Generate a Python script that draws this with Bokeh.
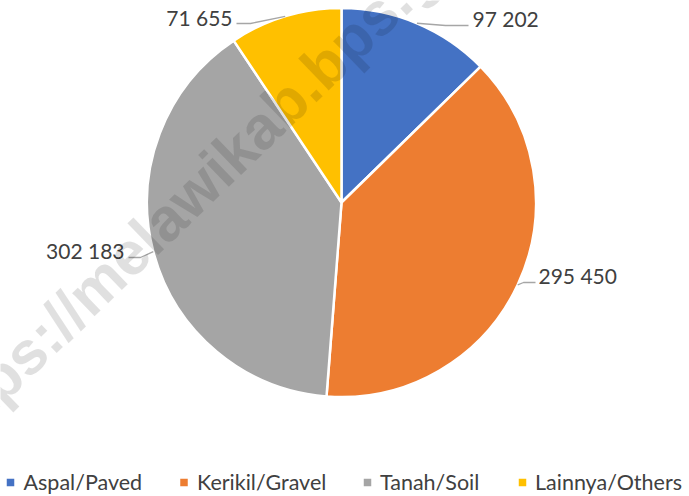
import numpy as np
from bokeh.plotting import figure
from bokeh.models import Range1d, ColumnDataSource
from bokeh.core.properties import value
from bokeh.embed import file_html
from bokeh.resources import INLINE

# ---- data ----
categories = ["Aspal/Paved", "Kerikil/Gravel", "Tanah/Soil", "Lainnya/Others"]
values = [97202, 295450, 302183, 71655]
value_labels = ["97 202", "295 450", "302 183", "71 655"]
colors = ["#4472C4", "#ED7D31", "#A5A5A5", "#FFC000"]
watermark = "https://melawikab.bps.go.id"

# ---- layout (screen pixel coords -> data coords, 1 unit = 1 px) ----
W, H = 689, 496
def X(px):
    return px
def Y(py):
    return H - py

CX, CY, R = 341, 202, 194.5
FONT = value("Lato")
TXT = "#404040"

p = figure(width=W, height=H, x_range=Range1d(0, W), y_range=Range1d(0, H),
           output_backend="svg", toolbar_location=None, min_border=0)
p.axis.visible = False
p.grid.visible = False
p.outline_line_color = None
p.background_fill_color = "white"
p.border_fill_color = "white"

vals = np.array(values, dtype=float)
frac = vals / vals.sum()
cum = np.concatenate([[0.0], np.cumsum(frac)])
start = np.pi / 2 - cum[:-1] * 2 * np.pi
end = np.pi / 2 - cum[1:] * 2 * np.pi
mid = (start + end) / 2

src = ColumnDataSource(dict(start=start, end=end, color=colors, cat=categories))
p.wedge(x=X(CX), y=Y(CY), radius=R, start_angle="start", end_angle="end",
        direction="clock", fill_color="color", line_color="white", line_width=2.5,
        source=src)

# data labels with leader lines
# per-slice layout: (elbow_px, end_px, text_px, align)
label_layout = [
    ((445, 25), (468, 25), (472, 18), "left"),
    ((523, 282), (535, 282), (538, 275), "left"),
    ((140, 257), (128, 257), (124, 250), "right"),
    ((250, 23), (236, 23), (232, 17), "right"),
]
for i, (elbow, endp, tp, align) in enumerate(label_layout):
    ex = X(CX) + R * np.cos(mid[i])
    ey = Y(CY) + R * np.sin(mid[i])
    p.line([ex, X(elbow[0]), X(endp[0])], [ey, Y(elbow[1]), Y(endp[1])],
           line_color="#A6A6A6", line_width=1.3)
    p.text(x=[X(tp[0])], y=[Y(tp[1])], text=[value_labels[i]], text_font=FONT,
           text_font_size="21px", text_color=TXT, text_align=align,
           text_baseline="middle")

# legend
leg_sq = [10, 183.5, 367, 522]
leg_tx = [23, 196.5, 379.5, 534.5]
leg_y = 481
p.scatter(x=[X(v) for v in leg_sq], y=[Y(482)] * 4, marker="square", size=7.5,
          fill_color=colors, line_color=None)
p.text(x=[X(v) for v in leg_tx], y=[Y(leg_y)] * 4, text=categories, text_font=FONT,
       text_font_size="21.5px", text_color=TXT, text_align="left", text_baseline="middle")

# watermark
p.text(x=[X(218)], y=[Y(167)], text=[watermark], text_font=value("Liberation Sans"),
       text_font_style="bold", text_font_size="61px", text_color="black", text_alpha=0.12,
       angle=np.deg2rad(44), text_align="center", text_baseline="middle")

open("out.html", "w").write(file_html(p, INLINE))
